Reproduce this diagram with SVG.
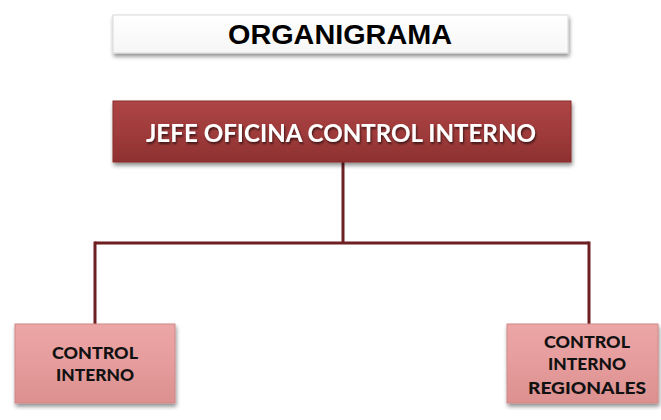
<svg xmlns="http://www.w3.org/2000/svg" width="661" height="420" viewBox="0 0 661 420">
  <defs>
    <linearGradient id="gRed" x1="0" y1="0" x2="0" y2="1">
      <stop offset="0" stop-color="#ad4545"/>
      <stop offset="0.5" stop-color="#a03b3b"/>
      <stop offset="1" stop-color="#8e3131"/>
    </linearGradient>
    <linearGradient id="gPink" x1="0" y1="0" x2="0" y2="1">
      <stop offset="0" stop-color="#eca6a6"/>
      <stop offset="0.5" stop-color="#e69c9c"/>
      <stop offset="1" stop-color="#dc9090"/>
    </linearGradient>
    <linearGradient id="gWhite" x1="0" y1="0" x2="0" y2="1">
      <stop offset="0" stop-color="#ffffff"/>
      <stop offset="1" stop-color="#f6f6f6"/>
    </linearGradient>
    <filter id="sh" x="-10%" y="-20%" width="120%" height="150%">
      <feGaussianBlur in="SourceAlpha" stdDeviation="2"/>
      <feOffset dx="1" dy="3" result="b"/>
      <feComponentTransfer><feFuncA type="linear" slope="0.45"/></feComponentTransfer>
      <feMerge><feMergeNode/><feMergeNode in="SourceGraphic"/></feMerge>
    </filter>
    <filter id="tsh" x="-5%" y="-20%" width="110%" height="150%">
      <feGaussianBlur in="SourceAlpha" stdDeviation="0.8"/>
      <feOffset dx="1" dy="1.5"/>
      <feComponentTransfer><feFuncA type="linear" slope="0.6"/></feComponentTransfer>
      <feMerge><feMergeNode/><feMergeNode in="SourceGraphic"/></feMerge>
    </filter>
  </defs>
  <style>
    .conn { stroke: #6e1f22; stroke-width: 3; fill: none; }
    .child { fill: url(#gPink); stroke: #d08888; stroke-width: 1; }
    .ctext { font-family: "Lato", "Open Sans", sans-serif; font-weight: 900; font-size: 17px; fill: #111; text-anchor: middle; }
  </style>
  <rect width="661" height="420" fill="#ffffff"/>

  <g id="connectors">
    <path class="conn" d="M343 162 V243"/>
    <path class="conn" d="M95 243 H589"/>
    <path class="conn" d="M95 241.5 V324"/>
    <path class="conn" d="M589 241.5 V324"/>
  </g>

  <g id="title">
    <rect x="113" y="15" width="455" height="38" fill="url(#gWhite)" stroke="#d8d8d8" stroke-width="1" filter="url(#sh)"/>
    <text x="340" y="44" font-family="Liberation Sans, Arial, sans-serif" font-weight="bold" font-size="27" fill="#000" text-anchor="middle" textLength="224" lengthAdjust="spacingAndGlyphs">ORGANIGRAMA</text>
  </g>

  <g id="jefe">
    <rect x="113" y="101" width="458" height="61" fill="url(#gRed)" stroke="#8a2c2c" stroke-width="1" filter="url(#sh)"/>
    <text x="341" y="142" font-family="Lato, Open Sans, sans-serif" font-weight="bold" font-size="25" fill="#ffffff" text-anchor="middle" textLength="390" lengthAdjust="spacingAndGlyphs" filter="url(#tsh)">JEFE OFICINA CONTROL INTERNO</text>
  </g>

  <g id="control-interno">
    <rect class="child" x="15" y="324" width="160" height="79" filter="url(#sh)"/>
    <text class="ctext" x="95" y="359" textLength="86" lengthAdjust="spacingAndGlyphs">CONTROL</text>
    <text class="ctext" x="95" y="381" textLength="78" lengthAdjust="spacingAndGlyphs">INTERNO</text>
  </g>

  <g id="control-interno-regionales">
    <rect class="child" x="507" y="324" width="151" height="79" filter="url(#sh)"/>
    <text class="ctext" x="587" y="348" textLength="86" lengthAdjust="spacingAndGlyphs">CONTROL</text>
    <text class="ctext" x="587" y="370" textLength="78" lengthAdjust="spacingAndGlyphs">INTERNO</text>
    <text class="ctext" x="587" y="394" textLength="118" lengthAdjust="spacingAndGlyphs">REGIONALES</text>
  </g>
</svg>
